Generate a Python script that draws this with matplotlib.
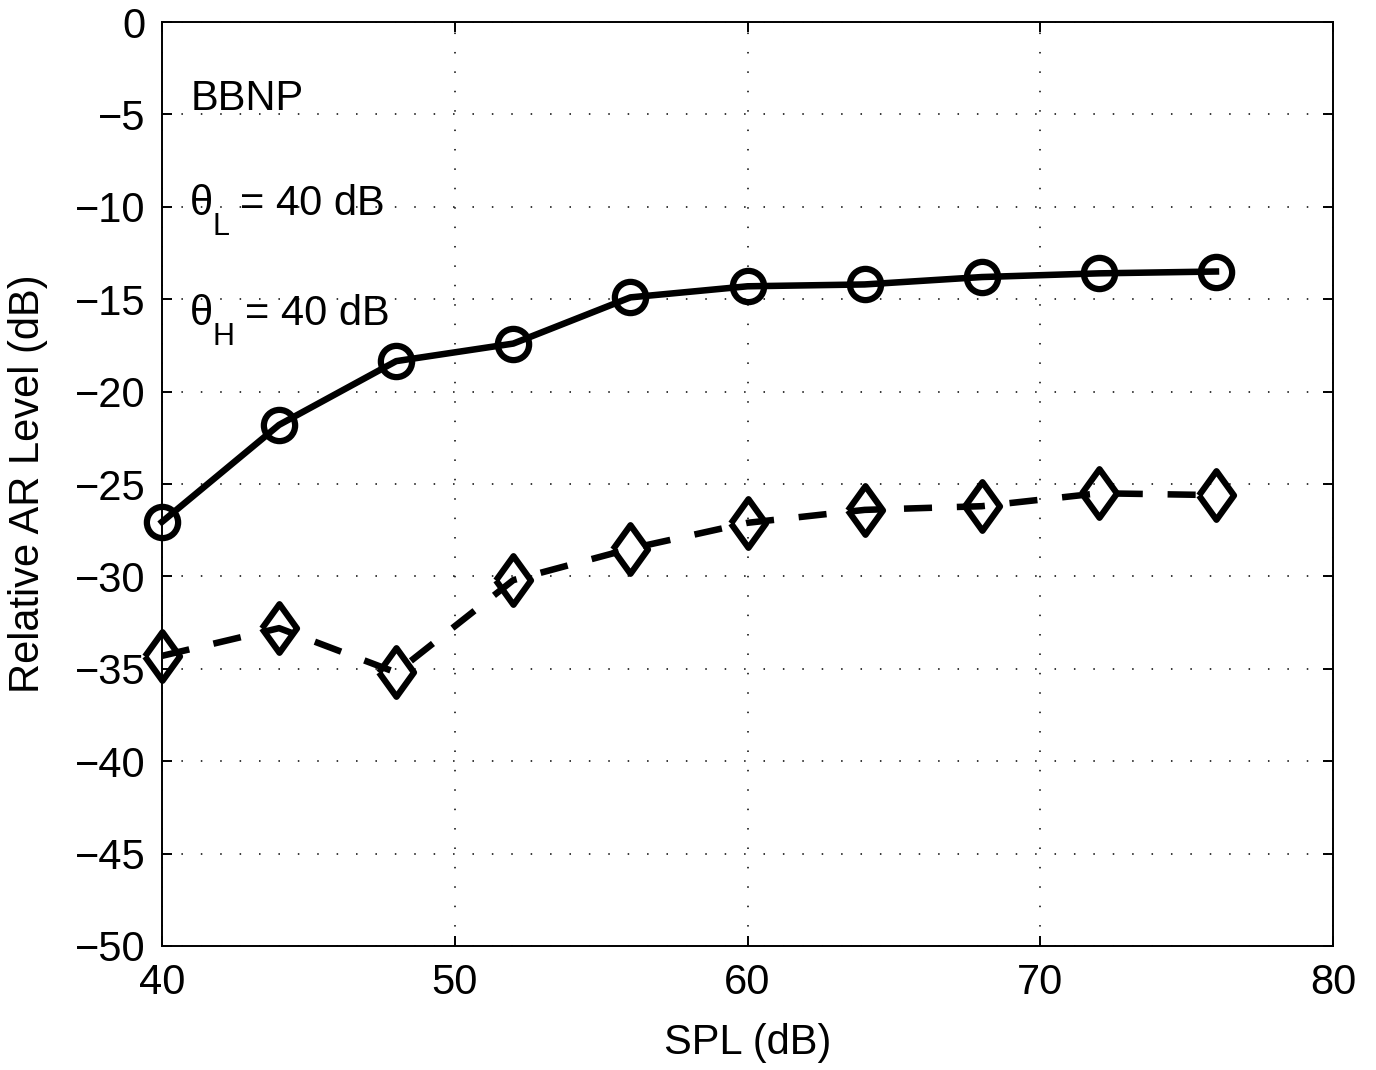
import matplotlib.pyplot as plt
import numpy as np

# SPL levels (dB)
spl = [40, 44, 48, 52, 56, 60, 64, 68, 72, 76]
# relative AR level (dB), circles (solid) and diamonds (dashed)
ar_circle = [-27.05, -21.8, -18.35, -17.4, -14.9, -14.3, -14.2, -13.8, -13.6, -13.5]
ar_diamond = [-34.3, -32.8, -35.2, -30.2, -28.5, -27.1, -26.4, -26.2, -25.5, -25.6]

plt.rcParams['font.family'] = ['Liberation Sans', 'DejaVu Sans']
FS = 30

fig = plt.figure(figsize=(13.76, 10.70), dpi=100)
ax = fig.add_axes([0.1177, 0.1159, 0.8511, 0.8635])

# matlab style diamond, a bit wider than matplotlib's 'd'
diamond = [(-0.72, 0), (0, 1), (0.72, 0), (0, -1), (-0.72, 0)]

ax.plot(spl, ar_circle, color='k', lw=4.7, marker='o', ms=22.5,
        mfc='none', mec='k', mew=4.5, clip_on=False, zorder=3)
ax.plot(spl, ar_diamond, color='k', lw=4.7, ls=(0, (4.3, 3.8)), marker=diamond, ms=35,
        mfc='none', mec='k', mew=4.5, clip_on=False, zorder=3)

ax.set_xlim(40, 80)
ax.set_ylim(-50, 0)
ax.set_xticks(np.arange(40, 81, 10))
ax.set_yticks(np.arange(-50, 1, 5))
ax.set_yticklabels([f"\u2212{abs(v)}" if v < 0 else str(v) for v in range(-50, 1, 5)])
ax.tick_params(direction='in', length=7, width=1.4, labelsize=FS,
               top=True, right=True, pad=12)
for s in ax.spines.values():
    s.set_linewidth(1.4)
ax.grid(True, color='k', ls=(0, (1, 11.7)), lw=1.1)

ax.set_xlabel('SPL (dB)', fontsize=FS)
ax.set_ylabel('Relative AR Level (dB)', fontsize=FS)
ax.xaxis.set_label_coords(0.5, -0.083)
ax.yaxis.set_label_coords(-0.097, 0.5)

# annotations, MATLAB-like low subscripts
ax.text(40.98, -4.76, 'BBNP', fontsize=FS, va='baseline')
for ybase, sub, eq_dx in [(-10.44, 'L', 36.5), (-16.4, 'H', 39.5)]:
    ax.text(40.95, ybase, '\u03b8', fontsize=FS, va='baseline')
    ax.annotate(sub, (40.95, ybase), xytext=(16.3, -14.6), textcoords='offset points',
                fontsize=22, va='baseline')
    ax.annotate('= 40 dB', (40.95, ybase), xytext=(eq_dx, 0), textcoords='offset points',
                fontsize=FS, va='baseline')

plt.savefig('out.png', dpi=100)
